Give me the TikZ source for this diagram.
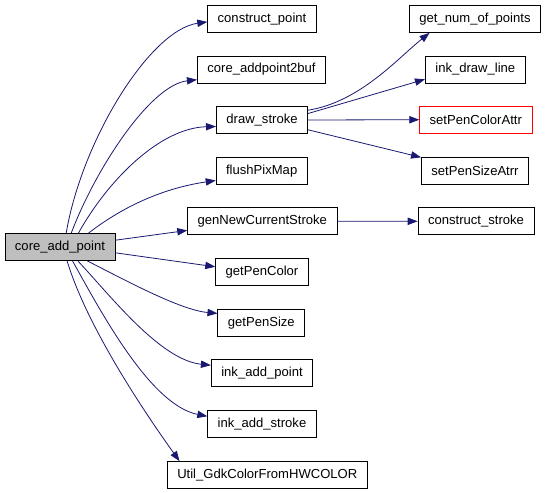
\documentclass[tikz,border=0pt]{standalone}
\usepackage{fontspec}
\setmainfont{Liberation Sans}
\usetikzlibrary{arrows.meta}
\definecolor{edgeblue}{RGB}{25,25,112}
\definecolor{boxgray}{RGB}{191,191,191}

\begin{document}
\begin{tikzpicture}[x=0.75pt,y=-0.75pt,
  fn/.style={draw=black,line width=0.6pt,font=\fontsize{9.8}{11}\selectfont,inner xsep=7.5pt,inner ysep=0pt,minimum height=20.25pt},
  call/.style={draw=edgeblue,line width=0.6pt,-{Triangle[length=7.5pt,width=5.5pt]}}]
\useasboundingbox (0,0) rectangle (547,493);

% caller
\node[fn,fill=boxgray] (main) at (60,247) {core\_add\_point};

% first level
\node[fn] (cpoint) at (262,19) {construct\_point};
\node[fn] (addbuf) at (261.5,69.5) {core\_addpoint2buf};
\node[fn] (dstroke) at (262,120) {draw\_stroke};
\node[fn] (flush) at (261.7,170.7) {flushPixMap};
\node[fn] (gennew) at (262.3,221.2) {genNewCurrentStroke};
\node[fn] (pencolor) at (262,271.7) {getPenColor};
\node[fn] (pensize) at (261.3,322.7) {getPenSize};
\node[fn] (addpoint) at (262,373.3) {ink\_add\_point};
\node[fn] (addstroke) at (262,424) {ink\_add\_stroke};
\node[fn] (gdkcolor) at (267.3,475) {Util\_GdkColorFromHWCOLOR};

% second level
\node[fn] (numpts) at (475,19) {get\_num\_of\_points};
\node[fn] (drawline) at (475.3,69.5) {ink\_draw\_line};
\node[fn,draw=red] (setcolor) at (475.8,119.7) {setPenColorAttr};
\node[fn] (setsize) at (475,170.8) {setPenSizeAtrr};
\node[fn] (cstroke) at (476,221.3) {construct\_stroke};

% calls from core_add_point
\draw[call] (main.66) .. controls (82,140) and (150,30) .. (cpoint.183);
\draw[call] (main.51) .. controls (95,170) and (150,85) .. (addbuf.189);
\draw[call] (main.37) .. controls (108,180) and (160,128) .. (dstroke.188);
\draw[call] (main.26) .. controls (125,205) and (165,188) .. (flush.192);
\draw[call] (main.7) -- (gennew.187);
\draw[call] (main.354) -- (pencolor.174);
\draw[call] (main.-27) .. controls (125,280) and (180,310) .. (pensize.168);
\draw[call] (main.-38) .. controls (110,295) and (160,360) .. (addpoint.171);
\draw[call] (main.-48) .. controls (100,310) and (150,405) .. (addstroke.172);
\draw[call] (main.-63) .. controls (88,330) and (150,420) .. (gdkcolor.171);

% calls from draw_stroke and genNewCurrentStroke
\draw[call] (dstroke.12) .. controls (360,102) and (398,58) .. (numpts.197);
\draw[call] (dstroke.8) -- (drawline.191);
\draw[call] (dstroke.east) -- (setcolor.west);
\draw[call] (dstroke.-12) -- (setsize.166);
\draw[call] (gennew.east) -- (cstroke.west);

\end{tikzpicture}
\end{document}
